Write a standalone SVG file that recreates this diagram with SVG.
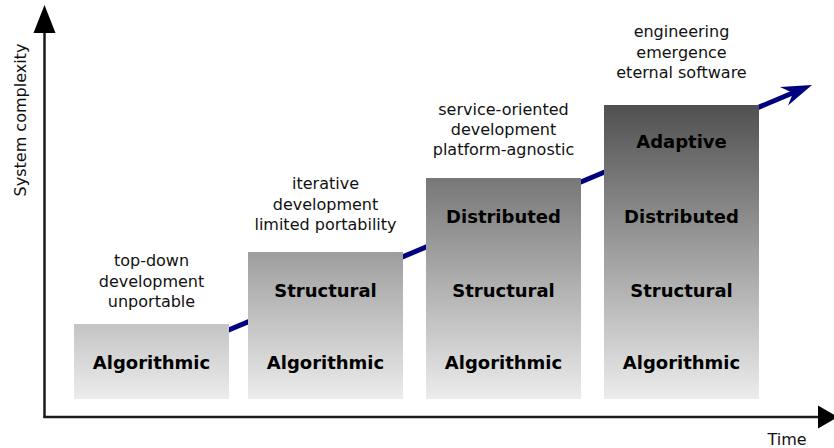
<svg xmlns="http://www.w3.org/2000/svg" width="834" height="448" viewBox="0 0 834 448">
<defs>
<linearGradient id="g" gradientUnits="userSpaceOnUse" x1="0" y1="105" x2="0" y2="399">
<stop offset="0" stop-color="#505050"/>
<stop offset="1" stop-color="#ececec"/>
</linearGradient>
<style>
.box{fill:url(#g);}
.b{font-family:"DejaVu Sans",sans-serif;font-weight:bold;font-size:18px;fill:#000;text-anchor:middle;}
.n{font-family:"DejaVu Sans",sans-serif;font-size:16px;fill:#111;text-anchor:middle;}
.axis{stroke:#1a1a1a;stroke-width:2.5;fill:none;}
</style>
</defs>
<g id="axes">
<line class="axis" x1="44.5" y1="30" x2="44.5" y2="418"/>
<line class="axis" x1="43.5" y1="417" x2="820" y2="417"/>
<polygon points="44.5,5 33.5,33 55.5,33" fill="#000"/>
<polygon points="838,417 818,405.5 818,428.5" fill="#000"/>
<text class="n" transform="translate(25.5,120) rotate(-90)">System complexity</text>
<text class="n" x="787" y="445">Time</text>
</g>
<g id="connectors">
<line x1="200" y1="342" x2="795" y2="92" stroke="#00007f" stroke-width="5"/>
<path d="M812,85 L780,87 L793,93 L788,105.5 Z" fill="#00007f"/>
</g>
<g id="stage1">
<rect class="box" x="74" y="324" width="155" height="75"/>
<text class="b" x="151.5" y="369">Algorithmic</text>
<text class="n" x="151.5" y="266">top-down</text>
<text class="n" x="151.5" y="286.5">development</text>
<text class="n" x="151.5" y="307">unportable</text>
</g>
<g id="stage2">
<rect class="box" x="248" y="252" width="155" height="147"/>
<text class="b" x="325.5" y="297">Structural</text>
<text class="b" x="325.5" y="369">Algorithmic</text>
<text class="n" x="325.5" y="189">iterative</text>
<text class="n" x="325.5" y="209.5">development</text>
<text class="n" x="325.5" y="230">limited portability</text>
</g>
<g id="stage3">
<rect class="box" x="426" y="178" width="155" height="221"/>
<text class="b" x="503.5" y="223">Distributed</text>
<text class="b" x="503.5" y="297">Structural</text>
<text class="b" x="503.5" y="369">Algorithmic</text>
<text class="n" x="503.5" y="115">service-oriented</text>
<text class="n" x="503.5" y="135">development</text>
<text class="n" x="503.5" y="155">platform-agnostic</text>
</g>
<g id="stage4">
<rect class="box" x="604" y="105" width="155" height="294"/>
<text class="b" x="681.5" y="148">Adaptive</text>
<text class="b" x="681.5" y="223">Distributed</text>
<text class="b" x="681.5" y="297">Structural</text>
<text class="b" x="681.5" y="369">Algorithmic</text>
<text class="n" x="681.5" y="37">engineering</text>
<text class="n" x="681.5" y="57.5">emergence</text>
<text class="n" x="681.5" y="78">eternal software</text>
</g>
</svg>
